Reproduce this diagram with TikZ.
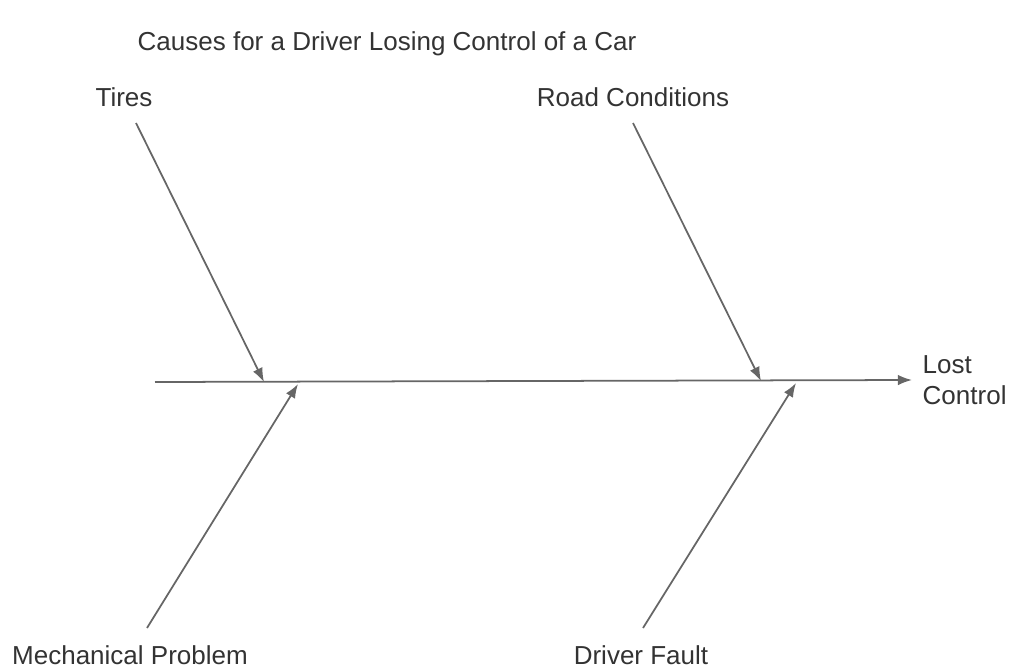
\documentclass[tikz,border=0pt]{standalone}
\usepackage{fontspec}
\setmainfont{Liberation Sans}
\usepackage{tikz}
\usetikzlibrary{arrows.meta,positioning}

\begin{document}
\begin{tikzpicture}[x=0.1mm,y=-0.1mm,
  lbl/.style={font=\fontsize{7.4}{9}\selectfont, text=black!80, inner sep=0pt},
  bone/.style={draw=black!60, line width=0.5pt, -{Latex[length=4pt,width=3pt]}}]
  \useasboundingbox (0,0) rectangle (1015,669);

  \node (title) [lbl] at (387,44) {Causes for a Driver Losing Control of a Car};
  \node (tires) [lbl] at (124,97) {Tires};
  \node (road) [lbl] at (633,97) {Road Conditions};
  \node (mech) [lbl] at (130,655) {Mechanical Problem};
  \node (fault) [lbl] at (641,655) {Driver Fault};
  \node (lost) [lbl, anchor=west, align=left] at (922,380) {Lost\\Control};

  % spine
  \coordinate (tail) at (155,382);
  \coordinate (head) at (912,380);
  \draw[bone] (tail) -- (head);

  % bones
  \coordinate (tiresend) at (136,123);
  \coordinate (tirestip) at (264,382);
  \coordinate (roadend) at (633,123);
  \coordinate (roadtip) at (761,381);
  \coordinate (mechend) at (147,628);
  \coordinate (mechtip) at (298,384);
  \coordinate (faultend) at (643,628);
  \coordinate (faulttip) at (796,383);

  \draw[bone] (tiresend) -- (tirestip);
  \draw[bone] (roadend) -- (roadtip);
  \draw[bone] (mechend) -- (mechtip);
  \draw[bone] (faultend) -- (faulttip);
\end{tikzpicture}
\end{document}
